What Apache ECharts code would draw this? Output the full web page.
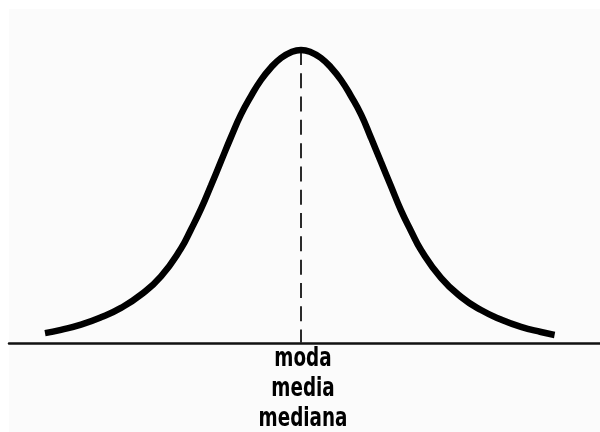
<!DOCTYPE html>
<html>
<head>
<meta charset="utf-8">
<script src="https://cdn.jsdelivr.net/npm/echarts@6/dist/echarts.min.js"></script>
<style>
  html, body { margin: 0; padding: 0; background: #ffffff; }
  #chart { width: 600px; height: 432px; }
</style>
</head>
<body>
<div id="chart"></div>
<script>
// Bell curve: position (standard units) and relative height of the curve
const curveX = [-3.2, -3.0, -2.75, -2.5, -2.25, -2.0, -1.75, -1.5, -1.375, -1.25, -1.125, -1.0, -0.875, -0.75, -0.625,
                -0.5, -0.375, -0.25, -0.125, 0,
                0.125, 0.25, 0.375, 0.5, 0.625, 0.75, 0.875, 1.0, 1.125, 1.25, 1.375, 1.5, 1.75, 2.0, 2.25, 2.5,
                2.75, 3.0, 3.17];
const curveY = [0.0135, 0.018, 0.025, 0.035, 0.048, 0.066, 0.091, 0.129, 0.155, 0.183, 0.215, 0.248, 0.281, 0.312, 0.337,
                0.359, 0.376, 0.389, 0.397, 0.400,
                0.397, 0.389, 0.376, 0.359, 0.337, 0.312, 0.280, 0.247, 0.214, 0.181, 0.153, 0.127, 0.089, 0.063,
                0.045, 0.032, 0.022, 0.015, 0.011];

// Centre of the distribution and its labels
const centerX = 0;
const peakY = 0.400;
const centerLabels = ['moda', 'media', 'mediana'];

const chart = echarts.init(document.getElementById('chart'), null, { renderer: 'canvas' });

const option = {
  backgroundColor: '#ffffff',
  animation: false,
  grid: { left: 9, right: 0, top: 6, bottom: 89 },
  xAxis: {
    type: 'value',
    min: -3.65,
    max: 3.7375,
    axisLine: { show: true, onZero: true, lineStyle: { color: '#111111', width: 2.5 } },
    axisTick: { show: false },
    axisLabel: { show: false },
    splitLine: { show: false }
  },
  yAxis: {
    type: 'value',
    min: 0,
    max: 0.46,
    show: false,
    splitLine: { show: false }
  },
  series: [{
    type: 'line',
    data: curveX.map((x, i) => [x, curveY[i]]),
    smooth: 0.5,
    showSymbol: false,
    silent: true,
    lineStyle: { color: '#000000', width: 6.5, cap: 'butt' },
    z: 3,
    markLine: {
      silent: true,
      symbol: ['none', 'none'],
      label: { show: false },
      lineStyle: { color: '#2a2a2a', width: 2, type: [15, 8.3] },
      data: [[{ coord: [centerX, peakY] }, { coord: [centerX, 0] }]],
      z: 2
    }
  }]
};

chart.setOption(option);

// Labels under the centre of the curve, placed through the x scale
const cx = chart.convertToPixel({ xAxisIndex: 0 }, centerX);
const baseY = chart.convertToPixel({ yAxisIndex: 0 }, 0);
chart.setOption({
  graphic: [
    {
      type: 'rect',
      z: -10,
      silent: true,
      shape: { x: 9, y: 9, width: 591, height: 423 },
      style: { fill: '#fbfbfb' }
    }
  ].concat(centerLabels.map((t, i) => ({
    type: 'text',
    silent: true,
    x: cx + 2,
    y: baseY + 16 + i * 30,
    scaleX: 0.68,
    style: {
      text: t,
      x: 0,
      y: 0,
      fill: '#000000',
      font: 'bold 27px "DejaVu Sans"',
      textAlign: 'center',
      textVerticalAlign: 'middle'
    }
  })))
});
</script>
</body>
</html>
